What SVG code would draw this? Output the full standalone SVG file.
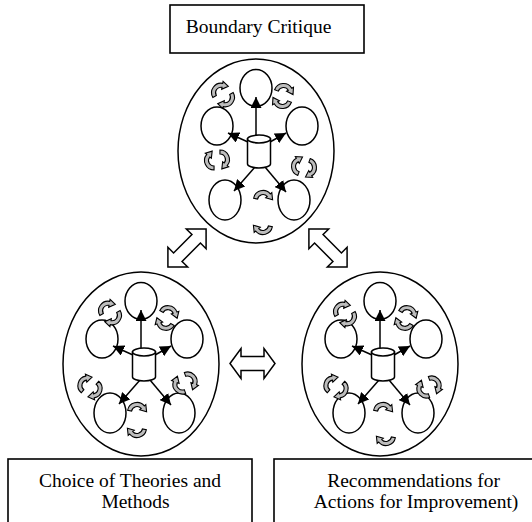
<svg xmlns="http://www.w3.org/2000/svg" width="532" height="522" viewBox="0 0 532 522">
<style>
.ln{fill:none;stroke:#000;stroke-width:1.5}
.ar{fill:none;stroke:#000;stroke-width:1.5;marker-end:url(#ah)}
.wf{fill:#fff;stroke:#000;stroke-width:1.5}
.cu{fill:#bdbdbd;stroke:#000;stroke-width:1.1}
.box{fill:#fff;stroke:#000;stroke-width:1.6}
.lbl{font-family:"Liberation Serif","Times New Roman",serif;font-size:19.5px;fill:#000;text-anchor:middle}
.da{fill:#fff;stroke:#000;stroke-width:1.5;stroke-linejoin:miter}
</style>
<defs>
<marker id="ah" viewBox="0 0 10 10" refX="10" refY="5" markerWidth="11" markerHeight="11" markerUnits="userSpaceOnUse" orient="auto"><path d="M0,0 L10,5 L0,10 z" fill="#000"/></marker>
<path id="curl" class="cu" d="M -9.36 -1.65 A 9.5 9.5 0 0 1 7.28 -6.11 L 8.81 -7.39 L 9.6 -0.2 L 2.68 -2.25 L 4.21 -3.54 A 5.5 5.5 0 0 0 -5.42 -0.955 Z"/>
<g id="pair"><use href="#curl" transform="translate(0,-3)"/><use href="#curl" transform="rotate(180) translate(0,-3)"/></g>
<g id="core">
<ellipse class="ln" cx="0" cy="0" rx="78" ry="92"/>
<ellipse class="ln" cx="0" cy="-63" rx="16" ry="18.5"/>
<ellipse class="ln" cx="-39" cy="-25" rx="16" ry="19"/>
<ellipse class="ln" cx="46" cy="-25" rx="16" ry="19"/>
<ellipse class="ln" cx="-31" cy="49" rx="16" ry="20"/>
<ellipse class="ln" cx="38" cy="49" rx="16" ry="20"/>
<line class="ar" x1="0" y1="-14" x2="0" y2="-54"/>
<line class="ar" x1="-8" y1="-9" x2="-28" y2="-18"/>
<line class="ar" x1="14" y1="-9" x2="30" y2="-18"/>
<line class="ar" x1="-1" y1="16" x2="-22" y2="40"/>
<line class="ar" x1="9" y1="16" x2="30" y2="41"/>
<path class="wf" d="M -8.5 -12 L -8.5 13 A 11.5 4 0 0 0 14.5 13 L 14.5 -12 Z"/>
<ellipse class="wf" cx="3" cy="-12" rx="11.5" ry="4"/>
</g>
</defs>

<g id="connectors">
<path class="da" transform="translate(187,248) rotate(-45)" d="M -27 0 L -13 -14 L -13 -6 L 13 -6 L 13 -14 L 27 0 L 13 14 L 13 6 L -13 6 L -13 14 Z"/>
<path class="da" transform="translate(328,248) rotate(45)" d="M -27 0 L -13 -14 L -13 -6 L 13 -6 L 13 -14 L 27 0 L 13 14 L 13 6 L -13 6 L -13 14 Z"/>
<path class="da" transform="translate(252.5,363.5)" d="M -22.5 0 L -11.5 -15 L -11.5 -7 L 11.5 -7 L 11.5 -15 L 22.5 0 L 11.5 15 L 11.5 7 L -11.5 7 L -11.5 15 Z"/>
</g>

<g id="boundary-critique">
<rect class="box" x="170" y="5" width="194" height="48"/>
<text class="lbl" x="258.5" y="33">Boundary Critique</text>
</g>

<g id="cluster-top" transform="translate(256,151)">
<use href="#core"/>
<use href="#pair" transform="translate(-33,-56) rotate(-40)"/>
<use href="#pair" transform="translate(27,-55) rotate(10)"/>
<use href="#pair" transform="translate(-39,9) rotate(80)"/>
<use href="#pair" transform="translate(48,16) rotate(100)"/>
<use href="#curl" transform="translate(7,49)"/>
<use href="#curl" transform="translate(7,74) rotate(180)"/>
</g>

<g id="cluster-left" transform="translate(141,364)">
<use href="#core"/>
<use href="#pair" transform="translate(-31,-51) rotate(-40)"/>
<use href="#pair" transform="translate(26,-46) rotate(20)"/>
<use href="#pair" transform="translate(-51,23) rotate(-60)"/>
<use href="#pair" transform="translate(44,19) rotate(60)"/>
<use href="#curl" transform="translate(-4,48)"/>
<use href="#curl" transform="translate(-4,64) rotate(180)"/>
</g>

<g id="cluster-right" transform="translate(380,364)">
<use href="#core"/>
<use href="#pair" transform="translate(-35,-50) rotate(-40)"/>
<use href="#pair" transform="translate(26,-46) rotate(20)"/>
<use href="#pair" transform="translate(-44,23) rotate(-60)"/>
<use href="#pair" transform="translate(49,23) rotate(60)"/>
<use href="#curl" transform="translate(3,48)"/>
<use href="#curl" transform="translate(6,72) rotate(180)"/>
</g>

<g id="choice-of-theories">
<rect class="box" x="8" y="459" width="244" height="80"/>
<text class="lbl" x="130" y="487">Choice of Theories and</text>
<text class="lbl" x="135.5" y="508">Methods</text>
</g>

<g id="recommendations">
<rect class="box" x="274" y="459" width="270" height="80"/>
<text class="lbl" x="413.5" y="487">Recommendations for</text>
<text class="lbl" x="416" y="508">Actions for Improvement)</text>
</g>
</svg>
